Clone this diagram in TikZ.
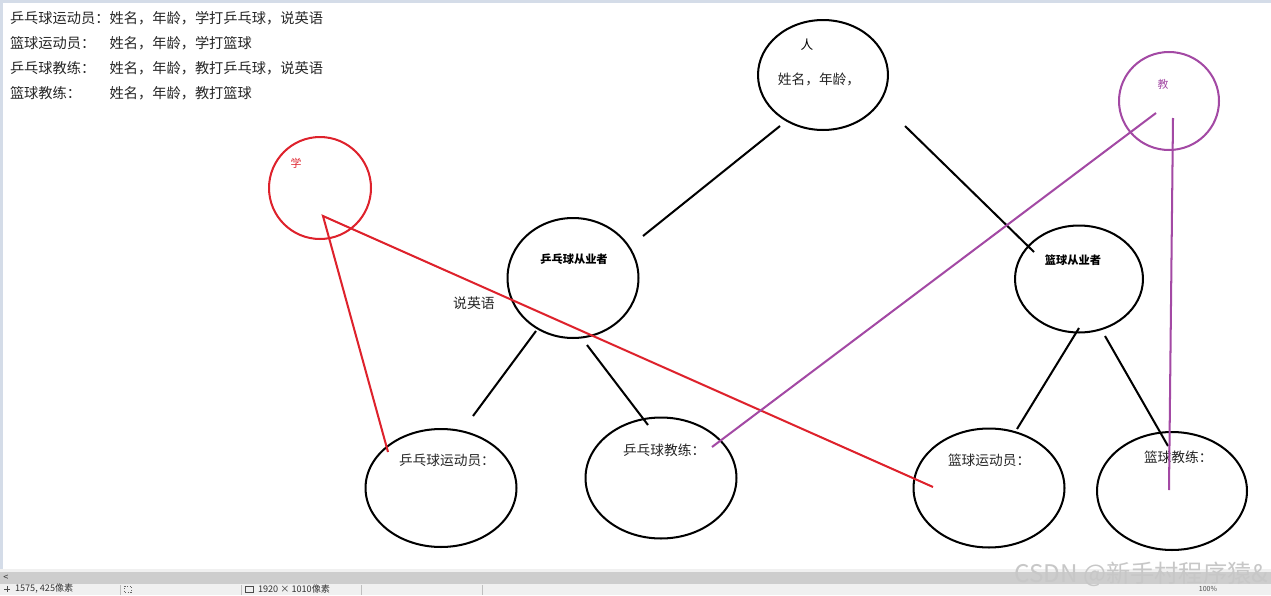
\documentclass[tikz,border=0pt]{standalone}
\usepackage{fontspec}
\setmainfont{Noto Sans CJK SC}
\usetikzlibrary{shapes.geometric,calc}
\definecolor{xuered}{RGB}{222,34,44}
\definecolor{jiaopurple}{RGB}{163,73,164}
\definecolor{winedge}{RGB}{212,220,232}
\definecolor{barbg}{RGB}{240,240,240}
\definecolor{scrollgray}{RGB}{205,205,205}

\begin{document}
\begin{tikzpicture}[x=0.02cm,y=-0.02cm,line width=1.15pt,
  lei/.style={draw,ellipse,line width=1.15pt,inner sep=0pt},
  note/.style={anchor=west,inner sep=0pt,font=\fontsize{8.1}{10}\selectfont,text=black!85},
  attr/.style={inner sep=0pt,font=\fontsize{7.8}{9}\selectfont,text=black!85},
  zhu/.style={inner sep=0pt,font=\fontsize{6.4}{8}\selectfont\bfseries},
  tiny/.style={inner sep=0pt,font=\fontsize{5.2}{6}\selectfont,text=black!80}]
  \useasboundingbox (0,0) rectangle (1271,595);
  % 窗口
  \fill[white] (0,0) rectangle (1271,569);
  \fill[winedge] (0,0) rectangle (1271,3);
  \fill[winedge] (0,0) rectangle (3,569);
  \fill[barbg] (0,569) rectangle (1271,595);
  \fill[scrollgray] (0,572) rectangle (1271,584);
  \node[tiny] (zuo) at (6,578) {<};
  \draw[line width=0.4pt,black!25] (120,585) -- (120,595) (241,585) -- (241,595)
    (361,585) -- (361,595) (482,585) -- (482,595);
  \draw[line width=0.4pt,black!70] (4,589) -- (10,589) (7,586) -- (7,592);
  \node[tiny,anchor=west] (zuobiao) at (14,589) {1575, 425像素};
  \draw[line width=0.4pt,black!60,densely dotted] (124,586) rectangle (131,592);
  \draw[line width=0.4pt,black!70] (245,586) rectangle (253,592);
  \node[tiny,anchor=west] (chicun) at (257,589) {1920 × 1010像素};
  \node[inner sep=0pt,font=\fontsize{4}{5}\selectfont,text=black!70] (bili) at (1208,589) {100\%};
  \node[inner sep=0pt,font=\fontsize{13.8}{15}\selectfont,text=black!22,anchor=east] (shuiyin) at (1269,574) {CSDN @新手村程序猿\&};

  % 说明
  \node[note] (l1) at (9,18) {\makebox[7em][l]{乒乓球运动员：}姓名，年龄，学打乒乓球，说英语};
  \node[note] (l2) at (9,43) {\makebox[7em][l]{篮球运动员：}姓名，年龄，学打篮球};
  \node[note] (l3) at (9,68) {\makebox[7em][l]{乒乓球教练：}姓名，年龄，教打乒乓球，说英语};
  \node[note] (l4) at (9,93) {\makebox[7em][l]{篮球教练：}姓名，年龄，教打篮球};

  % 类
  \node[lei,minimum width=2.6cm,minimum height=2.2cm] (ren) at (823,75) {};
  \node[lei,minimum width=2.62cm,minimum height=2.4cm] (ppcy) at (573,278) {};
  \node[lei,minimum width=2.56cm,minimum height=2.14cm] (lqcy) at (1079,279) {};
  \node[lei,minimum width=3.02cm,minimum height=2.36cm] (ppyd) at (441,488) {};
  \node[lei,minimum width=3.02cm,minimum height=2.42cm] (ppjl) at (661,478) {};
  \node[lei,minimum width=3.02cm,minimum height=2.38cm] (lqyd) at (989,488) {};
  \node[lei,minimum width=3cm,minimum height=2.36cm] (lqjl) at (1172,491) {};
  \node[lei,draw=xuered,minimum width=2.04cm,minimum height=2.04cm] (xue) at (320,188) {};
  \node[lei,draw=jiaopurple,minimum width=2cm,minimum height=1.96cm] (jiao) at (1169,101) {};

  \node[inner sep=0pt,font=\fontsize{7.2}{8}\selectfont] (renT) at (807,45) {人};
  \node[attr] (renA) at (819,79) {姓名，年龄，};
  \node[zhu] (ppcyT) at (574,259) {乒乓球从业者};
  \node[zhu] (lqcyT) at (1073,260) {篮球从业者};
  \node[attr,anchor=west] (ppydT) at (398,460) {乒乓球运动员：};
  \node[attr,anchor=west] (ppjlT) at (622,450) {乒乓球教练：};
  \node[attr,anchor=west] (lqydT) at (947,460) {篮球运动员：};
  \node[attr,anchor=west] (lqjlT) at (1143,457) {篮球教练：};
  \node[attr,font=\fontsize{7.9}{9}\selectfont] (yingyu) at (474,303) {说英语};
  \node[inner sep=0pt,font=\fontsize{6.2}{7}\selectfont,text=xuered] (xueT) at (296,163) {学};
  \node[inner sep=0pt,font=\fontsize{6.2}{7}\selectfont,text=jiaopurple] (jiaoT) at (1163,84) {教};

  % 端点
  \coordinate (r1) at (780,126);
  \coordinate (r2) at (905,126);
  \coordinate (p0) at (643,236);
  \coordinate (q0) at (1034,252);
  \coordinate (p1) at (536,331);
  \coordinate (p2) at (587,345);
  \coordinate (q1) at (1079,328);
  \coordinate (q2) at (1105,336);
  \coordinate (pyd) at (473,416);
  \coordinate (pjl) at (648,425);
  \coordinate (qyd) at (1017,429);
  \coordinate (qjl) at (1168,446);
  \coordinate (x0) at (323,216);
  \coordinate (x1) at (388,452);
  \coordinate (x2) at (933,487);
  \coordinate (j1) at (1156,113);
  \coordinate (j2) at (1173,118);
  \coordinate (j3) at (712,447);
  \coordinate (j4) at (1169,490);

  % 继承
  \draw (r1) -- (p0);
  \draw (r2) -- (q0);
  \draw (p1) -- (pyd);
  \draw (p2) -- (pjl);
  \draw (q1) -- (qyd);
  \draw (q2) -- (qjl);
  % 学 / 教
  \draw[xuered] (x1) -- (x0) -- (x2);
  \draw[jiaopurple] (j1) -- (j3);
  \draw[jiaopurple] (j2) -- (j4);
\end{tikzpicture}
\end{document}
